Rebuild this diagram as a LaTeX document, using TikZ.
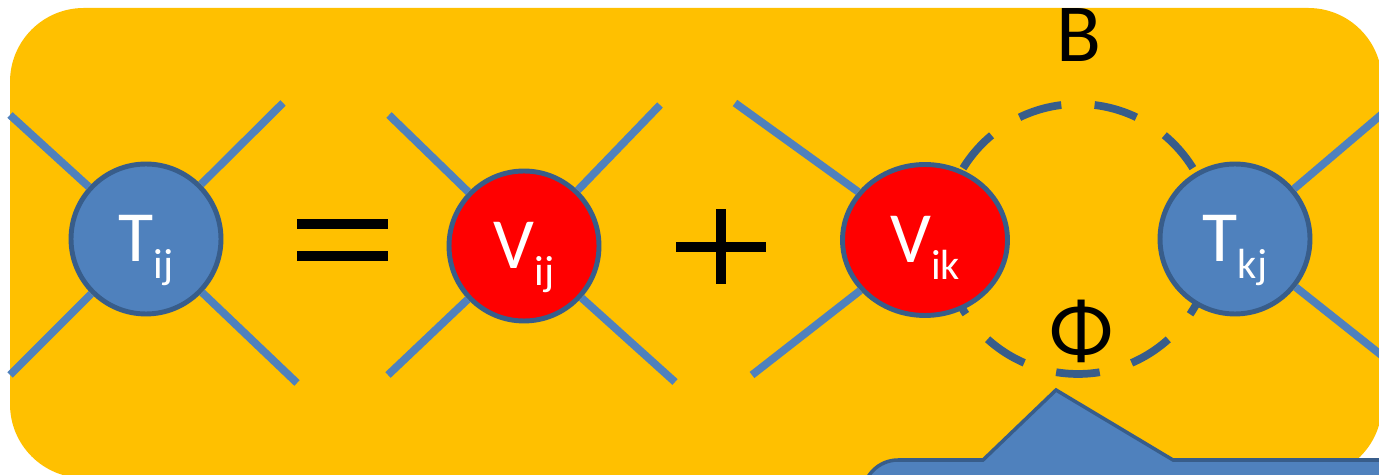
\documentclass[tikz,border=0pt]{standalone}
\usepackage{fontspec}
\setmainfont{Carlito}
\usepackage{tikz}
\usetikzlibrary{shapes.geometric}
\definecolor{slotyellow}{RGB}{255,192,0}
\definecolor{nodeblue}{RGB}{79,129,189}
\definecolor{edgeblue}{RGB}{56,93,138}
\definecolor{vred}{RGB}{255,0,0}
\newcommand{\amplab}[2]{{\fontsize{41}{41}\selectfont #1}\raisebox{-9.6pt}{\fontsize{24}{24}\selectfont #2}}

\begin{document}
\begin{tikzpicture}[x=0.02cm,y=-0.02cm,
  tnode/.style={circle,draw=edgeblue,fill=nodeblue,line width=2.8pt,minimum size=3cm,inner sep=0pt,text=white,text height=26pt,text depth=0pt},
  vnode/.style={tnode,fill=vred},
  leg/.style={draw=nodeblue,line width=4.4pt},
  loopline/.style={draw=edgeblue,line width=4.4pt,dash pattern=on 24.9pt off 18.97pt,dash phase=1.4pt},
  callout/.style={draw=edgeblue,fill=nodeblue,line width=2pt,line join=miter}]
  \useasboundingbox (0,0) rectangle (1379,475);
  \clip (0,0) rectangle (1379,475);
  % background
  \fill[slotyellow,rounded corners=42pt] (10,8) rectangle (1382,478);

  % loop between V and T
  \coordinate (loop) at (1078,239);
  \draw[loopline] (loop) circle[radius=2.7cm];

  % vertices
  \node[tnode] (tij) at (146,239) {\amplab{T}{ij}};
  \node[vnode] (vij) at (524,246) {\amplab{V}{ij}};
  \node[vnode,ellipse,minimum width=3.3cm,minimum height=3.02cm] (vik) at (925,240) {\amplab{V}{ik}};
  \node[tnode] (tkj) at (1235,239) {\amplab{T}{kj}};

  % free ends of the legs
  \coordinate (tij-nw) at (10,115);
  \coordinate (tij-ne) at (283,103);
  \coordinate (tij-sw) at (10,375);
  \coordinate (tij-se) at (297,383);
  \coordinate (vij-nw) at (389,115);
  \coordinate (vij-ne) at (660,105);
  \coordinate (vij-sw) at (388,375);
  \coordinate (vij-se) at (675,382);
  \coordinate (vik-nw) at (735,103);
  \coordinate (vik-sw) at (752,375);
  \coordinate (tkj-ne) at (1395,103);
  \coordinate (tkj-se) at (1395,366);
  \foreach \v/\e in {tij/nw,tij/ne,tij/sw,tij/se,vij/nw,vij/ne,vij/sw,vij/se,vik/nw,vik/sw,tkj/ne,tkj/se}
    \draw[leg] (\v) -- (\v-\e);

  % operators
  \fill[black] (297,219) rectangle (388,229);
  \fill[black] (297,251) rectangle (388,261);
  \fill[black] (676,242) rectangle (766,252);
  \fill[black] (716,209) rectangle (726,284);

  % loop labels
  \node[anchor=base,inner sep=0pt,font=\fontsize{47}{47}\selectfont] (blab) at (1079,62) {B};
  \node[anchor=base,inner sep=0pt,font=\fontsize{48}{48}\selectfont] (philab) at (1082,359) {Φ};

  % callout box
  \draw[callout] (1450,520) -- (863,520) -- (863,495) arc[start angle=180,end angle=90,radius=0.7cm]
    -- (983,460) -- (1056,390) -- (1173,460) -- (1450,460) -- cycle;
\end{tikzpicture}
\end{document}
